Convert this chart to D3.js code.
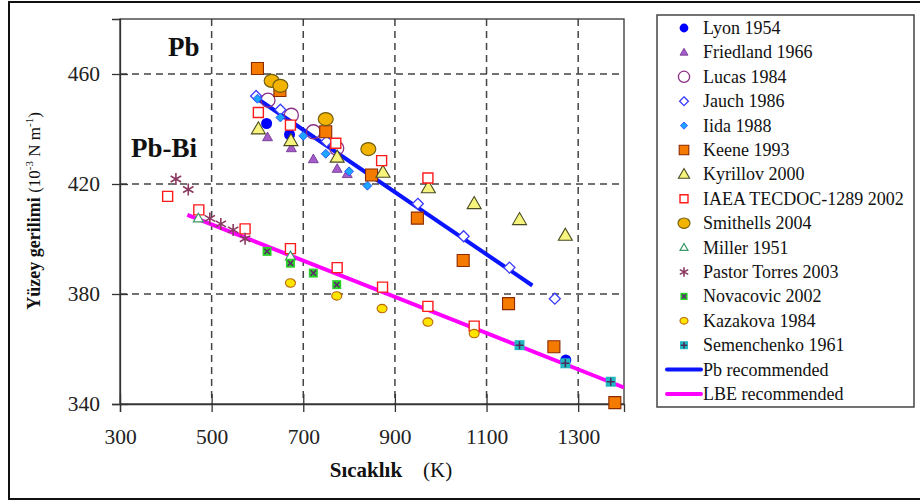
<!DOCTYPE html>
<html>
<head>
<meta charset="utf-8">
<script src="https://cdn.jsdelivr.net/npm/d3@7/dist/d3.min.js"></script>
<style>
  body { margin: 0; background: #fff; }
  svg { display: block; }
</style>
</head>
<body>
<div id="chart"></div>
<script>
// data: [temperature K, surface tension 1e-3 N/m]
const lyon = [[620, 442], [670, 438], [1273, 356]];
const friedland = [[622, 437], [674, 433], [722, 429], [774, 425.5], [796, 423.6]];
const lucas = [[623, 450.5], [674, 445], [722, 439], [773, 433]];
const jauch = [[597, 452], [650, 447], [751, 435.5], [950, 412.8], [1050, 401], [1150, 389.6], [1249, 378.3]];
const iida = [[600, 451], [650, 444.2], [700, 437.5], [749, 431], [800, 424.6], [840, 419.4]];
const keene = [[600, 462], [649, 454], [749, 439], [849, 423.3], [949, 407.6], [1049, 392.2], [1148, 376.5], [1247, 360.8], [1380, 340.5]];
const kyrillov = [[602, 440], [673, 435.7], [774, 429.7], [874, 424.2], [973, 418.6], [1073, 412.8], [1172, 407], [1272, 401.3]];
const iaea = [[602, 446], [672, 441.4], [771, 434.8], [871, 428.5], [972, 422.2],
              [404, 415.5], [472, 410.6], [573, 403.7], [672, 396.5], [774, 389.6], [873, 382.5], [972, 375.5], [1073, 368.3]];
const smithells = [[631, 457.5], [650, 455.7], [749, 443.6], [842, 432.7]];
const miller = [[471, 407.5], [672, 393.7]];
const pastor = [[422, 421.8], [449, 418], [496, 407.5], [520, 405.5], [547, 403.3], [573, 400.1]];
const novacovic = [[621, 395.5], [672, 391.2], [722, 387.6], [773, 383.4]];
const kazakova = [[672, 384], [773, 379.3], [872, 374.7], [972, 369.8], [1073, 365.6]];
const semenchenko = [[1172, 361.4], [1272, 354.8], [1371, 348.1]];
const pbRecommended = [[600, 451], [1200, 383.1]];
const lbeRecommended = [[447, 408.8], [1400, 346]];

const xTicks = [300, 500, 700, 900, 1100, 1300];
const yTicks = [340, 380, 420, 460];

const seriesNames = ["Lyon 1954", "Friedland 1966", "Lucas 1984", "Jauch 1986", "Iida 1988", "Keene 1993",
  "Kyrillov 2000", "IAEA TECDOC-1289 2002", "Smithells 2004", "Miller 1951", "Pastor Torres 2003",
  "Novacovic 2002", "Kazakova 1984", "Semenchenko 1961"];
const seriesData = [lyon, friedland, lucas, jauch, iida, keene, kyrillov, iaea, smithells, miller, pastor, novacovic, kazakova, semenchenko];
const seriesKeys = ["lyon", "friedland", "lucas", "jauch", "iida", "keene", "kyrillov", "iaea", "smithells", "miller", "pastor", "novacovic", "kazakova", "semenchenko"];

const serif = "Liberation Serif";
const width = 920;
const height = 501;
const margin = {top: 19, left: 120};
const innerWidth = 504;
const innerHeight = 385;

const svg = d3.select("#chart")
  .append("svg")
  .attr("width", width)
  .attr("height", height)
  .attr("font-family", serif);

// outer frame of the figure
svg.append("path")
  .attr("d", "M925,2 H9 V499 H925")
  .attr("fill", "none")
  .attr("stroke", "#111")
  .attr("stroke-width", 2);

const xScale = d3.scaleLinear().domain([300, 1400]).range([0, innerWidth]);
const yScale = d3.scaleLinear().domain([340, 480]).range([innerHeight, 0]);

const inner = svg.append("g")
  .attr("transform", `translate(${margin.left}, ${margin.top})`);

// dashed grid
inner.append("g").selectAll("line")
  .data(xTicks.slice(1))
  .join("line")
    .attr("x1", d => xScale(d)).attr("x2", d => xScale(d))
    .attr("y1", 0).attr("y2", innerHeight)
    .attr("stroke", "#444").attr("stroke-width", 1.5)
    .attr("stroke-dasharray", "7,5");
inner.append("g").selectAll("line")
  .data(yTicks.slice(1))
  .join("line")
    .attr("y1", d => yScale(d)).attr("y2", d => yScale(d))
    .attr("x1", 0).attr("x2", innerWidth)
    .attr("stroke", "#444").attr("stroke-width", 1.5)
    .attr("stroke-dasharray", "7,5");

// plot box
inner.append("rect")
  .attr("width", innerWidth).attr("height", innerHeight)
  .attr("fill", "none").attr("stroke", "#333").attr("stroke-width", 1.3);

const bottomAxis = d3.axisBottom(xScale).tickValues(xTicks).tickFormat(d3.format("d")).tickSize(8).tickPadding(17);
const leftAxis = d3.axisLeft(yScale).tickValues(yTicks).tickFormat(d3.format("d")).tickSize(8).tickPadding(12);

const gx = inner.append("g")
  .attr("class", "axis-x")
  .attr("transform", `translate(0, ${innerHeight})`)
  .call(bottomAxis);
const gy = inner.append("g")
  .attr("class", "axis-y")
  .call(leftAxis);
[gx, gy].forEach(g => {
  g.attr("font-family", serif).attr("font-size", 21.5);
  g.select(".domain").attr("stroke", "#333").attr("stroke-width", 1.3);
  g.selectAll(".tick line").attr("stroke", "#333").attr("stroke-width", 1.3);
  g.selectAll(".tick text").attr("fill", "#222").attr("font-family", serif).attr("font-size", 21.5);
});
// ticks also reach into the plot
gx.selectAll(".tick").append("line").attr("y2", -10).attr("stroke", "#333").attr("stroke-width", 1.3);
gy.selectAll(".tick").append("line").attr("x2", 8).attr("stroke", "#333").attr("stroke-width", 1.3);

// recommended lines
const lineGen = d3.line().x(d => xScale(d[0])).y(d => yScale(d[1]));
inner.append("path").attr("d", lineGen(pbRecommended))
  .attr("fill", "none").attr("stroke", "#0a14ff").attr("stroke-width", 4);
inner.append("path").attr("d", lineGen(lbeRecommended))
  .attr("fill", "none").attr("stroke", "#ff00ff").attr("stroke-width", 4);

// marker drawing
const tri = w => { const h = w * 0.866; return `M0,${-h * 0.6}L${w / 2},${h * 0.4}L${-w / 2},${h * 0.4}Z`; };
const sq = s => `M${-s / 2},${-s / 2}h${s}v${s}h${-s}Z`;
const dia = r => `M0,${-r}L${r},0L0,${r}L${-r},0Z`;

function drawMarker(g, key, k = 1) {
  switch (key) {
    case "lyon":
      g.append("circle").attr("r", 5.5 * k).attr("fill", "#0000ff"); break;
    case "friedland":
      g.append("path").attr("d", tri(10 * k)).attr("fill", "#a45cc8").attr("stroke", "#6b2d8c").attr("stroke-width", 0.8); break;
    case "lucas":
      g.append("circle").attr("r", 7 * k).attr("fill", "none").attr("stroke", "#8a2f86").attr("stroke-width", 1.3); break;
    case "jauch":
      g.append("path").attr("d", dia(5.5 * k)).attr("fill", "#fff").attr("stroke", "#3a3aff").attr("stroke-width", 1.3); break;
    case "iida":
      g.append("path").attr("d", dia(4.5 * k)).attr("fill", "#1ea5ff").attr("stroke", "#2040ff").attr("stroke-width", 0.8); break;
    case "keene":
      g.append("path").attr("d", sq(12 * k)).attr("fill", "#f57a00").attr("stroke", "#8a2a00").attr("stroke-width", 1.1); break;
    case "kyrillov":
      g.append("path").attr("d", tri(14 * k)).attr("fill", "#f6f47c").attr("stroke", "#4a4a22").attr("stroke-width", 1.1); break;
    case "iaea":
      g.append("path").attr("d", sq(10 * k)).attr("fill", "#fff").attr("stroke", "#ff1a1a").attr("stroke-width", 1.4); break;
    case "smithells":
      g.append("ellipse").attr("rx", 7.5 * k).attr("ry", 6.5 * k).attr("fill", "#f2b400").attr("stroke", "#6b5a10").attr("stroke-width", 1.1); break;
    case "miller":
      g.append("path").attr("d", tri(10 * k)).attr("fill", "#fff").attr("stroke", "#3d9a6a").attr("stroke-width", 1.2); break;
    case "pastor": {
      const r = 6 * k;
      g.append("path")
        .attr("d", `M0,${-r}V${r}M${-r * 0.87},${-r / 2}L${r * 0.87},${r / 2}M${-r * 0.87},${r / 2}L${r * 0.87},${-r / 2}`)
        .attr("stroke", "#8b3a62").attr("stroke-width", 1.6).attr("fill", "none");
      break;
    }
    case "novacovic": {
      const s = 9 * k;
      g.append("path").attr("d", sq(s)).attr("fill", "#2ad22a");
      g.append("path").attr("d", `M${-s * 0.3},${-s * 0.3}L${s * 0.3},${s * 0.3}M${-s * 0.3},${s * 0.3}L${s * 0.3},${-s * 0.3}`)
        .attr("stroke", "#5a2a6a").attr("stroke-width", 1.5);
      break;
    }
    case "kazakova":
      g.append("ellipse").attr("rx", 5 * k).attr("ry", 4.2 * k).attr("fill", "#ffe400").attr("stroke", "#b8650a").attr("stroke-width", 1.1); break;
    case "semenchenko": {
      const s = 10 * k;
      g.append("path").attr("d", sq(s)).attr("fill", "#22b8c2");
      g.append("path").attr("d", `M0,${-s * 0.4}V${s * 0.4}M${-s * 0.4},0H${s * 0.4}`)
        .attr("stroke", "#4a2a5a").attr("stroke-width", 1.5);
      break;
    }
  }
}

// points
seriesData.forEach((values, i) => {
  inner.append("g")
    .attr("class", "series-" + seriesKeys[i])
    .selectAll("g")
    .data(values)
    .join("g")
      .attr("transform", d => `translate(${xScale(d[0])}, ${yScale(d[1])})`)
      .each(function() { drawMarker(d3.select(this), seriesKeys[i]); });
});

// region labels
inner.append("text").text("Pb")
  .attr("x", 48).attr("y", 37)
  .attr("font-family", serif).attr("font-weight", "bold").attr("font-size", 27).attr("fill", "#111");
inner.append("text").text("Pb-Bi")
  .attr("x", 11).attr("y", 138)
  .attr("font-family", serif).attr("font-weight", "bold").attr("font-size", 27).attr("fill", "#111");

// axis titles
const xTitle = svg.append("text")
  .attr("x", 391).attr("y", 477)
  .attr("text-anchor", "middle")
  .attr("fill", "#111")
  .attr("font-family", serif)
  .attr("font-size", 21);
xTitle.append("tspan").text("Sıcaklık").attr("font-weight", "bold");
xTitle.append("tspan").text("(K)").attr("dx", 21);

const yTitle = svg.append("text")
  .attr("transform", "translate(40, 211) rotate(-90)")
  .attr("text-anchor", "middle")
  .attr("fill", "#111")
  .attr("font-family", serif)
  .attr("font-size", 17);
yTitle.append("tspan").text("Yüzey gerilimi ").attr("font-weight", "bold").attr("font-size", 18);
yTitle.append("tspan").text("(10");
yTitle.append("tspan").text("-3").attr("dy", -7).attr("font-size", 11);
yTitle.append("tspan").text(" N m").attr("dy", 7);
yTitle.append("tspan").text("-1").attr("dy", -7).attr("font-size", 11);
yTitle.append("tspan").text(")").attr("dy", 7);

// legend
const legend = svg.append("g").attr("transform", "translate(657, 15)");
legend.append("rect")
  .attr("width", 257).attr("height", 392)
  .attr("fill", "#fff").attr("stroke", "#444").attr("stroke-width", 1.5);

const legendItems = seriesKeys.concat(["pbline", "lbeline"]);
const legendLabels = seriesNames.concat(["Pb recommended", "LBE recommended"]);
const rowStep = 24.4;

legend.selectAll(".legend-item")
  .data(legendItems)
  .join("g")
    .attr("class", "legend-item")
    .attr("transform", (d, i) => `translate(0, ${13 + i * rowStep})`)
    .each(function(d, i) {
      const g = d3.select(this);
      if (d === "pbline" || d === "lbeline") {
        g.append("line").attr("x1", 10).attr("x2", 44)
          .attr("stroke", d === "pbline" ? "#0a14ff" : "#ff00ff")
          .attr("stroke-width", 4).attr("stroke-linecap", "round");
      } else {
        const m = g.append("g").attr("transform", "translate(27, 0)");
        drawMarker(m, d, 0.8);
      }
      g.append("text").text(legendLabels[i])
        .attr("x", 46).attr("y", 6)
        .attr("fill", "#111")
        .attr("font-family", serif)
        .attr("font-size", 18);
    });
</script>
</body>
</html>
